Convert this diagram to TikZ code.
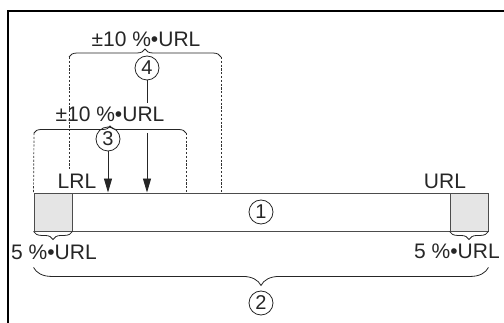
\documentclass[tikz,border=0pt]{standalone}
\usepackage{fontspec}
\setmainfont{Liberation Sans}
\usetikzlibrary{arrows.meta,decorations.pathreplacing,positioning}

\begin{document}
\begin{tikzpicture}[
  x=1pt, y=-1pt,
  every node/.style={font=\fontsize{21}{24}\selectfont, text=black!85},
  bar/.style={
    draw=black!70, line width=0.9pt, inner sep=0pt,
    minimum width=454pt, minimum height=38pt
  },
  zone/.style={
    draw=black!70, fill=black!10, line width=0.9pt, inner sep=0pt,
    minimum width=38pt, minimum height=38pt
  },
  num/.style={
    circle, draw=black!85, line width=0.8pt, inner sep=0pt,
    minimum size=24pt, font=\fontsize{20}{21}\selectfont
  },
  guide/.style={dash pattern=on 2.2pt off 1.6pt, line width=0.7pt, black!80},
  bracket/.style={decorate, decoration={brace, amplitude=#1}, line width=0.8pt, black!85},
  pointer/.style={-{Triangle[length=14pt, width=8pt]}, line width=0.9pt, black!85}
]
\useasboundingbox (0,0) rectangle (504,323);

% --- frame ---
\draw[line width=1.3pt] (504,11) -- (8,11) -- (8,323);

% --- measuring range bar ---
\node[bar] (bar) at (261,212) {};
\node[zone, anchor=north west] (lo) at (bar.north west) {};
\node[zone, anchor=north east] (hi) at (bar.north east) {};
\node[num] (n1) at (bar.center) {1};

% --- labels ---
\node (lrl) at (77,181) {LRL};
\node (url) at (445,181) {URL};
\node (pl) at (54,252) {5 \%•URL};
\node (pr) at (457,251) {5 \%•URL};
\node (tol4) at (146,39) {±10 \%•URL};
\node (tol3) at (110,114) {±10 \%•URL};

\node[num] (n4) at (147,68) {4};
\node[num] (n3) at (108,139) {3};
\node[num] (n2) at (261,303) {2};

% --- bracket ends ---
\coordinate (b4l) at (69,57);
\coordinate (b4r) at (221,57);
\coordinate (b3l) at (34,133);
\coordinate (b3r) at (186,133);

% --- braces ---
\draw[bracket=8] (b4l) -- (b4r);
\draw[bracket=7] (b3l) -- (b3r);
\draw[bracket=8] (lo.south east) -- (lo.south west);
\draw[bracket=8] (hi.south east) -- (hi.south west);
\draw[bracket=18] ([yshift=-36pt]hi.south east) -- ([yshift=-36pt]lo.south west);

% --- dashed guides ---
\draw[guide] (b4l) -- (b4l |- lrl.north);
\draw[guide] (b4r) -- (b4r |- bar.north);
\draw[guide] (b3l) -- (bar.north west);
\draw[guide] (b3r) -- (b3r |- bar.north);

% --- arrows ---
\draw[pointer] (n3) -- (n3 |- bar.north);
\draw[line width=0.9pt, black!85] (n4) -- (n4 |- tol3.north);
\draw[pointer] (n4 |- b3l) -- (n4 |- bar.north);

\end{tikzpicture}
\end{document}
